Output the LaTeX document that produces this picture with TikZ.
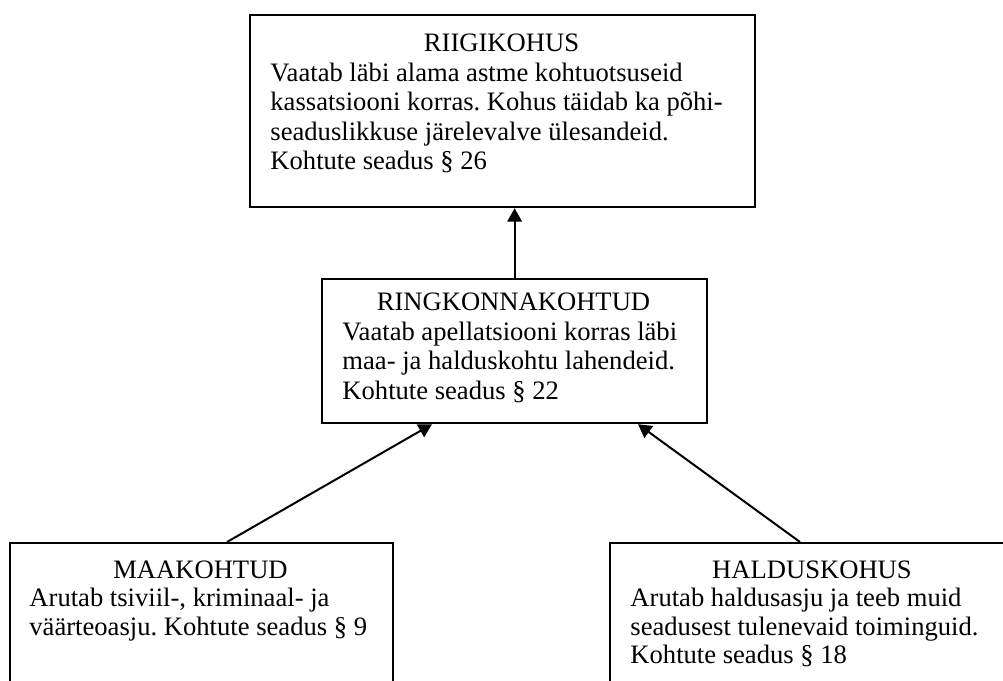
\documentclass[tikz,border=0pt]{standalone}
\usepackage{fontspec}
\setmainfont{Liberation Serif}
\usetikzlibrary{arrows.meta,calc}
\frenchspacing
\begin{document}
\begin{tikzpicture}[x=0.451pt,y=-0.451pt,
  box/.style={draw=black,line width=1pt,inner sep=0pt,anchor=north west},
  conn/.style={line width=0.9pt,-{Triangle[length=6pt,width=6.5pt]}},
  txt/.style={inner sep=0pt,font=\fontsize{12}{14}\selectfont},
  hdr/.style={txt,anchor=base},
  body/.style={txt,anchor=base west}]
\useasboundingbox (0,0) rectangle (1003,680);
\clip (0,0) rectangle (1003,680);
\fill[white] (0,0) rectangle (1003,680);
% boxes
\node[box,minimum width=227.76pt,minimum height=86.59pt] (riigi) at (249,14) {};
\node[box,minimum width=173.64pt,minimum height=64.94pt] (ringk) at (321,278) {};
\node[box,minimum width=172.73pt,minimum height=90.2pt] (maa) at (9,542) {};
\node[box,minimum width=183.1pt,minimum height=90.2pt] (haldus) at (609,542) {};
% connectors
\draw[conn] (ringk.north) -- (ringk.north |- riigi.south);
\draw[conn] ($(maa.north west)+(218,0)$) -- ($(ringk.south west)+(111,0)$);
\draw[conn] ($(haldus.north west)+(191,0)$) -- ($(ringk.south west)+(317,0)$);
% texts: RIIGIKOHUS
\node[hdr] (riigiH) at (501.5,51) {RIIGIKOHUS};
\node[body] (riigiA) at (270,81) {Vaatab läbi alama astme kohtuotsuseid};
\node[body] (riigiB) at (270,110.5) {kassatsiooni korras. Kohus täidab ka põhi-};
\node[body] (riigiC) at (270,140) {seaduslikkuse järelevalve ülesandeid.};
\node[body] (riigiD) at (270,169.5) {Kohtute seadus § 26};
% RINGKONNAKOHTUD
\node[hdr] (ringkH) at (513.5,310.5) {RINGKONNAKOHTUD};
\node[body] (ringkA) at (342,340) {Vaatab apellatsiooni korras läbi};
\node[body] (ringkB) at (342,369.5) {maa- ja halduskohtu lahendeid.};
\node[body] (ringkC) at (342,399) {Kohtute seadus § 22};
% MAAKOHTUD
\node[hdr] (maaH) at (200.5,578.5) {MAAKOHTUD};
\node[body] (maaA) at (29,606) {Arutab tsiviil-, kriminaal- ja};
\node[body] (maaB) at (29,635) {väärteoasju. Kohtute seadus § 9};
% HALDUSKOHUS
\node[hdr] (haldusH) at (812,578.5) {HALDUSKOHUS};
\node[body] (haldusA) at (630,606) {Arutab haldusasju ja teeb muid};
\node[body] (haldusB) at (630,635) {seadusest tulenevaid toiminguid.};
\node[body] (haldusC) at (630,663) {Kohtute seadus § 18};
\end{tikzpicture}
\end{document}
